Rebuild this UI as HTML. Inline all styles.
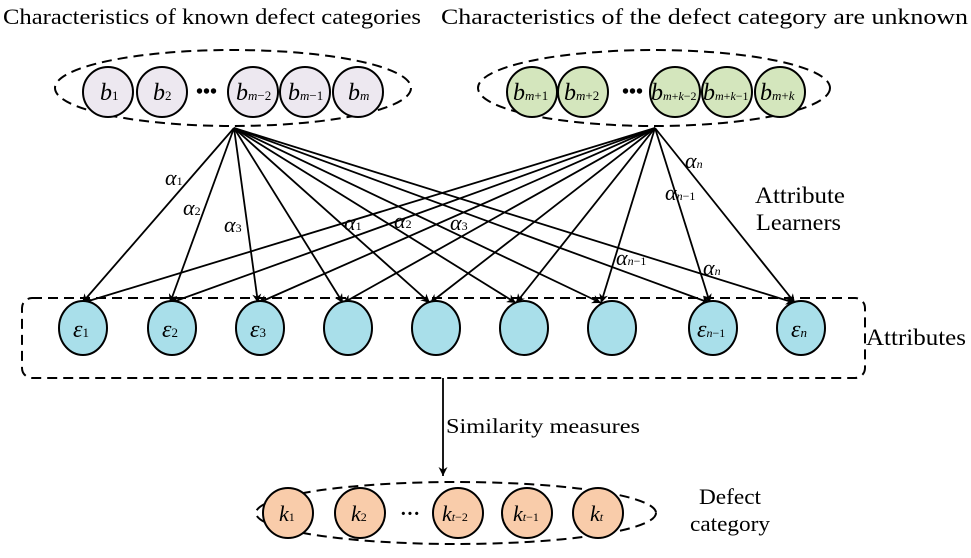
<!DOCTYPE html>
<html><head><style>body{margin:0;background:#fff}svg{display:block}</style></head><body>
<svg width="971" height="558" viewBox="0 0 971 558" xmlns="http://www.w3.org/2000/svg" font-family="Liberation Serif, serif">
<defs><marker id="a" viewBox="0 0 10 10" refX="10" refY="5" markerWidth="9" markerHeight="9" orient="auto" markerUnits="userSpaceOnUse"><path d="M0,0 L10,5 L0,10 L3,5 z" fill="#000"/></marker></defs>
<text x="3" y="24" font-size="22" textLength="418" lengthAdjust="spacingAndGlyphs">Characteristics of known defect categories</text>
<text x="441" y="24" font-size="22" textLength="527" lengthAdjust="spacingAndGlyphs">Characteristics of the defect category are unknown</text>
<g fill="none" stroke="#000" stroke-width="2" stroke-dasharray="10,6">
<ellipse cx="233" cy="88" rx="178" ry="38"/>
<ellipse cx="654" cy="88" rx="176" ry="38"/>
<rect x="22" y="298" width="843" height="80" rx="10"/>
<ellipse cx="456" cy="513" rx="200" ry="31"/>
</g>
<g stroke="#000" stroke-width="2" fill="#ede8f0">
<circle cx="108" cy="92" r="25"/><circle cx="162" cy="92" r="25"/><circle cx="253" cy="92" r="25"/><circle cx="305" cy="92" r="25"/><circle cx="358" cy="92" r="25"/>
</g>
<g stroke="#000" stroke-width="2" fill="#d4e6bd">
<circle cx="532" cy="92" r="25"/><circle cx="583" cy="92" r="25"/><circle cx="675" cy="92" r="25"/><circle cx="727" cy="92" r="25"/><circle cx="780" cy="92" r="25"/>
</g>
<g font-style="italic" font-size="24">
<text x="100" y="100">b<tspan font-size="13" font-style="normal">1</tspan></text>
<text x="153" y="100">b<tspan font-size="13" font-style="normal">2</tspan></text>
<text x="236" y="100">b<tspan font-size="13">m</tspan><tspan font-size="13" font-style="normal">−2</tspan></text>
<text x="288" y="100">b<tspan font-size="13">m</tspan><tspan font-size="13" font-style="normal">−1</tspan></text>
<text x="348" y="100">b<tspan font-size="13">m</tspan></text>
<text x="513" y="100">b<tspan font-size="13">m</tspan><tspan font-size="13" font-style="normal">+1</tspan></text>
<text x="564" y="100">b<tspan font-size="13">m</tspan><tspan font-size="13" font-style="normal">+2</tspan></text>
<text x="651" y="100">b<tspan font-size="12">m</tspan><tspan font-size="12" font-style="normal">+</tspan><tspan font-size="12">k</tspan><tspan font-size="12" font-style="normal">−2</tspan></text>
<text x="703" y="100">b<tspan font-size="12">m</tspan><tspan font-size="12" font-style="normal">+</tspan><tspan font-size="12">k</tspan><tspan font-size="12" font-style="normal">−1</tspan></text>
<text x="760" y="100">b<tspan font-size="13">m</tspan><tspan font-size="13" font-style="normal">+</tspan><tspan font-size="13">k</tspan></text>
</g>
<text x="196" y="98" font-size="20" font-weight="bold">•••</text>
<text x="622" y="98" font-size="20" font-weight="bold">•••</text>
<g stroke="#000" stroke-width="1.8" marker-end="url(#a)">
<line x1="234" y1="128" x2="82" y2="303"/><line x1="234" y1="128" x2="170" y2="303"/><line x1="234" y1="128" x2="258" y2="303"/><line x1="234" y1="128" x2="343" y2="303"/><line x1="234" y1="128" x2="430" y2="303"/><line x1="234" y1="128" x2="516" y2="303"/><line x1="234" y1="128" x2="601" y2="303"/><line x1="234" y1="128" x2="710" y2="303"/><line x1="234" y1="128" x2="795" y2="303"/>
<line x1="655" y1="128" x2="82" y2="303"/><line x1="655" y1="128" x2="170" y2="303"/><line x1="655" y1="128" x2="258" y2="303"/><line x1="655" y1="128" x2="343" y2="303"/><line x1="655" y1="128" x2="430" y2="303"/><line x1="655" y1="128" x2="516" y2="303"/><line x1="655" y1="128" x2="601" y2="303"/><line x1="655" y1="128" x2="710" y2="303"/><line x1="655" y1="128" x2="795" y2="303"/>
<line x1="443" y1="378" x2="443" y2="476"/>
</g>
<g font-style="italic" font-size="22">
<text x="165" y="185">α<tspan font-size="12" font-style="normal">1</tspan></text>
<text x="183" y="215">α<tspan font-size="12" font-style="normal">2</tspan></text>
<text x="224" y="232">α<tspan font-size="12" font-style="normal">3</tspan></text>
<text x="344" y="230">α<tspan font-size="12" font-style="normal">1</tspan></text>
<text x="394" y="228">α<tspan font-size="12" font-style="normal">2</tspan></text>
<text x="450" y="230">α<tspan font-size="12" font-style="normal">3</tspan></text>
<text x="616" y="265">α<tspan font-size="12">n</tspan><tspan font-size="12" font-style="normal">−1</tspan></text>
<text x="665" y="200">α<tspan font-size="12">n</tspan><tspan font-size="12" font-style="normal">−1</tspan></text>
<text x="685" y="168">α<tspan font-size="12">n</tspan></text>
<text x="703" y="275">α<tspan font-size="12">n</tspan></text>
</g>
<text x="755" y="203" font-size="23" textLength="90" lengthAdjust="spacingAndGlyphs">Attribute</text>
<text x="756" y="230" font-size="23" textLength="85" lengthAdjust="spacingAndGlyphs">Learners</text>
<g stroke="#000" stroke-width="2" fill="#a9dfea">
<ellipse cx="83" cy="328" rx="24" ry="27"/><ellipse cx="172" cy="328" rx="24" ry="27"/><ellipse cx="260" cy="328" rx="24" ry="27"/><ellipse cx="348" cy="328" rx="24" ry="27"/><ellipse cx="436" cy="328" rx="24" ry="27"/><ellipse cx="524" cy="328" rx="24" ry="27"/><ellipse cx="612" cy="328" rx="24" ry="27"/><ellipse cx="713" cy="328" rx="24" ry="27"/><ellipse cx="801" cy="328" rx="24" ry="27"/>
</g>
<g font-style="italic" font-size="24">
<text x="73" y="337">ε<tspan font-size="13" font-style="normal">1</tspan></text>
<text x="162" y="337">ε<tspan font-size="13" font-style="normal">2</tspan></text>
<text x="250" y="337">ε<tspan font-size="13" font-style="normal">3</tspan></text>
<text x="697" y="337">ε<tspan font-size="12">n</tspan><tspan font-size="12" font-style="normal">−1</tspan></text>
<text x="791" y="337">ε<tspan font-size="13">n</tspan></text>
</g>
<text x="866" y="345" font-size="23" textLength="100" lengthAdjust="spacingAndGlyphs">Attributes</text>
<text x="446" y="433" font-size="21" textLength="194" lengthAdjust="spacingAndGlyphs">Similarity measures</text>
<g stroke="#000" stroke-width="2" fill="#f9ccaa">
<circle cx="288" cy="513" r="25"/><circle cx="360" cy="513" r="25"/><circle cx="458" cy="513" r="25"/><circle cx="527" cy="513" r="25"/><circle cx="598" cy="513" r="25"/>
</g>
<g font-style="italic" font-size="22">
<text x="279" y="521">k<tspan font-size="12" font-style="normal">1</tspan></text>
<text x="351" y="521">k<tspan font-size="12" font-style="normal">2</tspan></text>
<text x="442" y="521">k<tspan font-size="12">t</tspan><tspan font-size="12" font-style="normal">−2</tspan></text>
<text x="513" y="521">k<tspan font-size="12">t</tspan><tspan font-size="12" font-style="normal">−1</tspan></text>
<text x="590" y="521">k<tspan font-size="12">t</tspan></text>
</g>
<text x="400" y="520" font-size="20" font-weight="bold">···</text>
<text x="699" y="504" font-size="22" textLength="62" lengthAdjust="spacingAndGlyphs">Defect</text>
<text x="690" y="531" font-size="22" textLength="80" lengthAdjust="spacingAndGlyphs">category</text>
</svg>
</body></html>
